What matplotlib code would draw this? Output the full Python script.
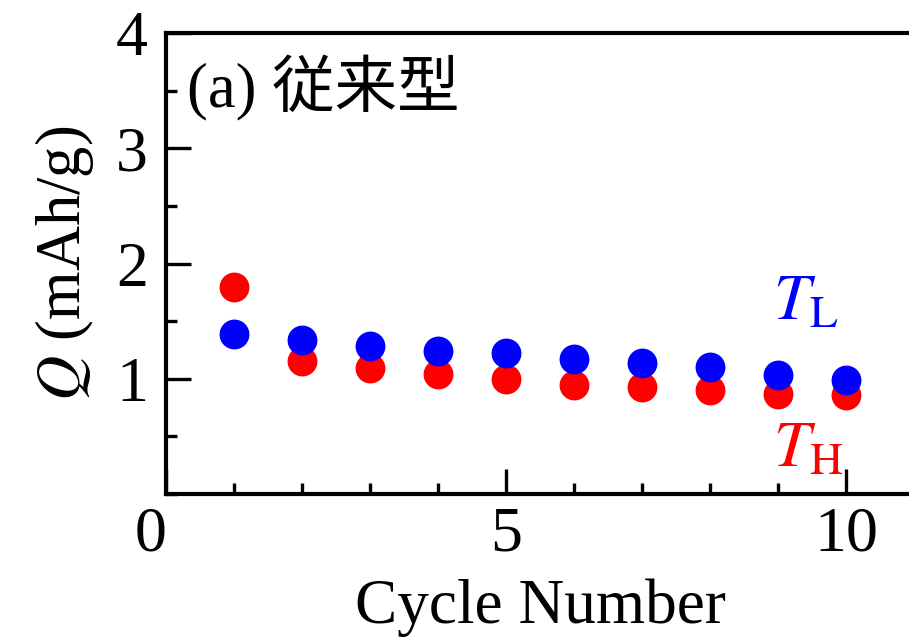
import matplotlib
matplotlib.use("Agg")
import matplotlib.pyplot as plt
import matplotlib.transforms as mtransforms
from matplotlib.ticker import MultipleLocator

plt.rcParams['font.family'] = ['Liberation Serif', 'Noto Sans CJK JP']
plt.rcParams['mathtext.fontset'] = 'stix'

# Discharge capacity per cycle at the two temperatures
cycles = [1, 2, 3, 4, 5, 6, 7, 8, 9, 10]
q_high = [1.80, 1.15, 1.09, 1.04, 1.00, 0.95, 0.93, 0.90, 0.87, 0.86]
q_low = [1.39, 1.34, 1.28, 1.24, 1.22, 1.17, 1.14, 1.10, 1.03, 0.99]

x_ticks = [0, 5, 10]
y_ticks = [1, 2, 3, 4]

W, H = 909, 641
fig = plt.figure(figsize=(W / 100, H / 100), dpi=100)
left, right, top, bottom = 166, 914, 33, 494
ax = fig.add_axes([left / W, 1 - bottom / H, (right - left) / W, (bottom - top) / H])

ax.plot(cycles, q_high, 'o', color='#ff0000', markersize=21.5, markeredgewidth=0, zorder=3)
ax.plot(cycles, q_low, 'o', color='#0000ff', markersize=21.5, markeredgewidth=0, zorder=4)

ax.set_xlim(0, 11)
ax.set_ylim(0, 4)
ax.set_xticks(x_ticks)
ax.set_yticks(y_ticks)
ax.xaxis.set_minor_locator(MultipleLocator(1))
ax.yaxis.set_minor_locator(MultipleLocator(0.5))
ax.tick_params(which='both', direction='in', width=2.4, labelsize=46, top=False, right=False)
ax.tick_params(which='major', length=18, pad=9)
ax.tick_params(which='minor', length=8)
ax.tick_params(axis='y', which='major', pad=13)

for s in ax.spines.values():
    s.set_linewidth(3)
ax.spines['right'].set_visible(False)

# shift the "0" label a little to the left of the corner
fig.canvas.draw()
xlabels = ax.get_xticklabels()
xlabels[0].set_transform(xlabels[0].get_transform() +
                         mtransforms.ScaledTranslation(-15 / 100, 0, fig.dpi_scale_trans))

ax.set_xlabel('Cycle Number', fontsize=45.5, labelpad=10)
ax.set_ylabel(r'$Q$ (mAh/g)', fontsize=45, labelpad=14)

ax.text(187, H - 107, '(a) 従来型', transform=None, fontsize=45,
        family=['Liberation Serif', 'Noto Sans CJK JP'], ha='left', va='baseline')
ax.text(0.812, 0.378, r'$T_{\mathrm{L}}$', transform=ax.transAxes, fontsize=47,
        color='#0000ff', ha='left', va='baseline')
ax.text(0.812, 0.06, r'$T_{\mathrm{H}}$', transform=ax.transAxes, fontsize=47,
        color='#ff0000', ha='left', va='baseline')

fig.savefig('out.png', dpi=100)
